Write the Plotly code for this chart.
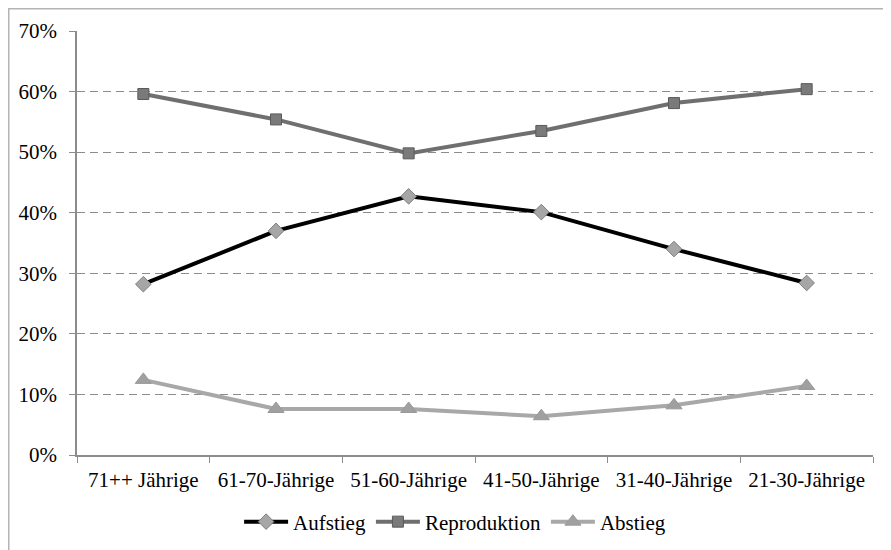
import plotly.graph_objects as go

categories = ["71++ Jährige", "61-70-Jährige", "51-60-Jährige", "41-50-Jährige", "31-40-Jährige", "21-30-Jährige"]
aufstieg = [0.282, 0.370, 0.427, 0.401, 0.340, 0.284]
reproduktion = [0.596, 0.554, 0.498, 0.535, 0.581, 0.604]
abstieg = [0.124, 0.076, 0.076, 0.064, 0.082, 0.114]
y_ticks = [0, 0.1, 0.2, 0.3, 0.4, 0.5, 0.6, 0.7]

# page body has an 8px margin, so the figure is sized/offset to compensate
W, H = 883, 542
ml, mr, mt, mb = 69, 18, 23, 95
pw, ph = W - ml - mr, H - mt - mb

fig = go.Figure()
fig.add_trace(go.Scatter(
    x=categories, y=aufstieg, name="Aufstieg", mode="lines+markers",
    line=dict(color="#000000", width=4),
    marker=dict(symbol="diamond", size=12, color="#a6a6a6", line=dict(color="#7f7f7f", width=1)),
))
fig.add_trace(go.Scatter(
    x=categories, y=reproduktion, name="Reproduktion", mode="lines+markers",
    line=dict(color="#6f6f6f", width=4),
    marker=dict(symbol="square", size=11, color="#7a7a7a", line=dict(color="#5a5a5a", width=1)),
))
fig.add_trace(go.Scatter(
    x=categories, y=abstieg, name="Abstieg", mode="lines+markers",
    line=dict(color="#a8a8a8", width=4),
    marker=dict(symbol="triangle-up", size=14, color="#a0a0a0", line=dict(color="#999999", width=1)),
))

def px_x(p):
    return (p - ml) / pw

def px_y(p):
    return (H - mb - p) / ph

fig.add_shape(type="line", xref="paper", yref="paper",
              x0=px_x(0), x1=px_x(W + 5), y0=px_y(0.5), y1=px_y(0.5),
              line=dict(color="#b4b4b4", width=2))
fig.add_shape(type="line", xref="paper", yref="paper",
              x0=px_x(0.5), x1=px_x(0.5), y0=px_y(0), y1=px_y(H + 5),
              line=dict(color="#b4b4b4", width=2))

fig.update_layout(
    width=W, height=H,
    margin=dict(l=ml, r=mr, t=mt, b=mb, autoexpand=False),
    paper_bgcolor="white", plot_bgcolor="white",
    font=dict(family="Liberation Serif", size=21, color="#000000"),
    showlegend=True,
    legend=dict(orientation="h", x=0.475, xanchor="center", y=-0.158, yanchor="middle",
                font=dict(family="Liberation Serif", size=21), tracegroupgap=0,
                itemwidth=44),
)
fig.update_xaxes(
    type="category", range=[-0.5, 5.5], automargin=False,
    showline=True, linecolor="#8c8c8c", linewidth=1.5,
    ticks="outside", tickson="boundaries", ticklen=6, tickcolor="#8c8c8c",
    ticklabelstandoff=5,
    showgrid=False, zeroline=False,
)
fig.update_yaxes(
    range=[0, 0.7], tickvals=y_ticks, tickformat=".0%", automargin=False,
    showline=True, linecolor="#8c8c8c", linewidth=1.5,
    ticks="outside", ticklen=6, tickcolor="#8c8c8c",
    ticklabelstandoff=8,
    showgrid=True, gridcolor="#8c8c8c", griddash="8px,5px", gridwidth=1,
    zeroline=False,
)

fig.write_html("out.html")
